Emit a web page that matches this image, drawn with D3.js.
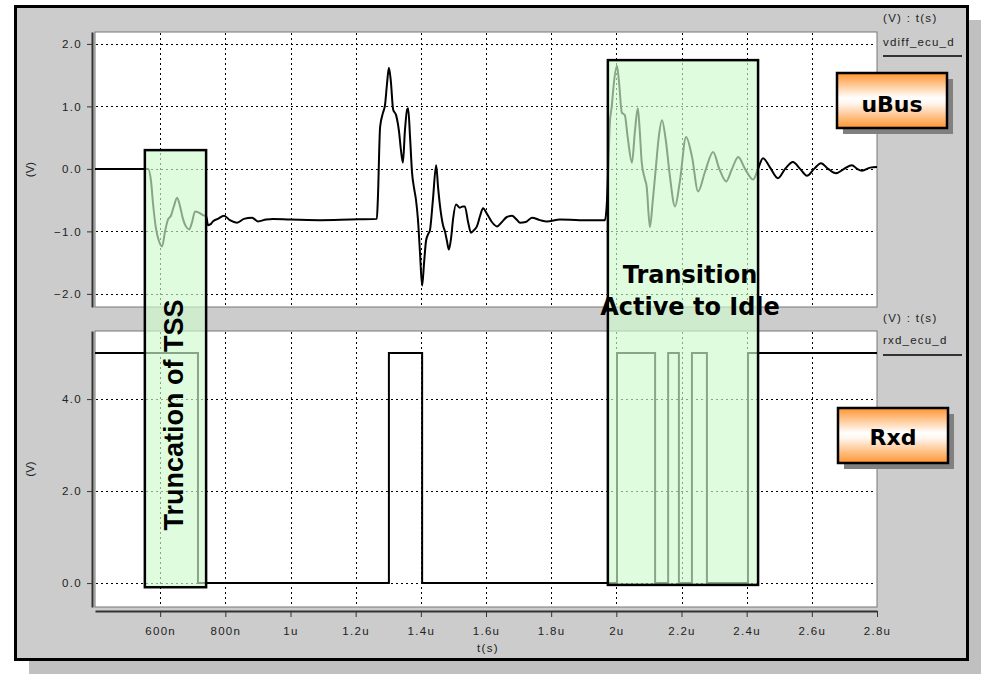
<!DOCTYPE html>
<html>
<head>
<meta charset="utf-8">
<script src="https://cdn.jsdelivr.net/npm/d3@7/dist/d3.min.js"></script>
<style>
  html, body { margin: 0; padding: 0; background: #ffffff; }
  svg { display: block; }
  .tick text { font-family: "Liberation Sans", Arial, sans-serif; font-size: 11.5px; letter-spacing: 1.3px; fill: #222; }
</style>
</head>
<body>
<div id="chart"></div>
<script>
// ---------------- DATA ----------------
// time in ns
const xTickValues = [600, 800, 1000, 1200, 1400, 1600, 1800, 2000, 2200, 2400, 2600, 2800];
const xTickLabels = ["600n", "800n", "1u", "1.2u", "1.4u", "1.6u", "1.8u", "2u", "2.2u", "2.4u", "2.6u", "2.8u"];
const topYTicks = [-2, -1, 0, 1, 2];
const botYTicks = [0, 2, 4];

// vdiff_ecu_d (V)
const vdiffT = [400, 563, 572, 578, 587, 596, 606, 615, 624, 633, 642, 652, 661, 670, 679, 689, 698, 707, 719, 731, 741,
  747, 756, 762, 777, 796, 814, 836, 857, 882, 900, 925, 946, 998, 1090, 1183, 1265,
  1268, 1275, 1284, 1290, 1296, 1302, 1308, 1315, 1324, 1333, 1339, 1345, 1351, 1358, 1361, 1367, 1373, 1379, 1385, 1391, 1397, 1404,
  1410, 1416, 1422, 1428, 1437, 1447, 1453, 1459, 1468, 1474, 1480, 1486, 1493, 1499, 1508, 1520, 1529, 1535, 1545, 1554, 1563, 1572,
  1582, 1591, 1603, 1618, 1634, 1649, 1664, 1680, 1692, 1704, 1722, 1741, 1766, 1787, 1827, 1888, 1965,
  1971, 1977, 1980, 1986, 1992, 2002, 2008, 2017, 2026, 2035, 2048, 2057, 2066, 2072, 2078, 2087, 2093, 2103, 2112, 2121, 2130, 2140,
  2152, 2164, 2180, 2195, 2214, 2232, 2251, 2272, 2297, 2316, 2337, 2355, 2374, 2395, 2420, 2435, 2450, 2472, 2496, 2518, 2542, 2564,
  2585, 2607, 2628, 2650, 2674, 2699, 2723, 2739, 2754, 2779, 2800];
const vdiffV = [0, 0, -0.2, -0.55, -0.95, -1.15, -1.24, -1.0, -0.81, -0.75, -0.6, -0.46, -0.6, -0.8, -0.92, -0.97, -0.85, -0.68, -0.7, -0.74, -0.76,
  -0.9, -0.88, -0.84, -0.8, -0.75, -0.82, -0.86, -0.8, -0.78, -0.84, -0.81, -0.8, -0.81, -0.82, -0.81, -0.8,
  -0.5, 0.67, 0.9, 1.02, 1.35, 1.62, 1.4, 0.95, 0.86, 0.6, 0.3, 0.1, 0.6, 0.95, 0.97, 0.5, -0.06, -0.3, -0.49, -0.8, -1.3, -1.87,
  -1.5, -1.15, -1.05, -0.98, -0.5, 0.06, -0.3, -0.6, -0.9, -1.0, -1.15, -1.29, -1.1, -0.8, -0.57, -0.62, -0.6, -0.6, -0.85, -1.02, -0.98, -0.92,
  -0.75, -0.63, -0.72, -0.85, -0.92, -0.85, -0.77, -0.75, -0.8, -0.86, -0.85, -0.78, -0.82, -0.84, -0.81, -0.82, -0.82,
  -0.54, 0.3, 0.73, 1.0, 1.35, 1.65, 1.4, 0.9, 0.86, 0.5, 0.1, 0.6, 0.97, 0.6, 0.1, -0.15, -0.28, -0.93, -0.5, 0.0, 0.5, 0.78,
  0.45, -0.1, -0.6, -0.2, 0.51, 0.2, -0.36, -0.05, 0.27, 0.0, -0.2, 0.0, 0.19, 0.0, -0.17, 0.0, 0.17, 0.02, -0.15, 0.0, 0.11, 0.0,
  -0.11, 0.0, 0.09, 0.0, -0.07, 0.0, 0.06, 0.0, -0.03, 0.02, 0.03];

// rxd_ecu_d (V): level holds from each edge time until the next one
const rxdT = [400, 716, 1302, 1404, 2002, 2119, 2159, 2192, 2232, 2278, 2404, 2800];
const rxdV = [5, 0, 5, 0, 5, 0, 5, 0, 5, 0, 5, 5];

// highlighted regions (time ns, top-plot volts for top edge, bottom-plot volts for bottom edge)
const highlightT0 = [553, 1974];
const highlightT1 = [741, 2435];
const highlightTopV = [0.30, 1.74];
const highlightBotV = [-0.09, -0.04];

// ---------------- LAYOUT ----------------
const W = 981, H = 674;
const plotL = 95, plotR = 877;
const topT = 32, topB = 307;
const botT = 331, botB = 607;

const svg = d3.select("#chart").append("svg").attr("width", W).attr("height", H);
const defs = svg.append("defs");
const grad = defs.append("linearGradient").attr("id", "orangeGrad").attr("x1", 0).attr("y1", 0).attr("x2", 0).attr("y2", 1);
grad.append("stop").attr("offset", "0%").attr("stop-color", "#ff9430");
grad.append("stop").attr("offset", "45%").attr("stop-color", "#ffffff");
grad.append("stop").attr("offset", "55%").attr("stop-color", "#fff6ee");
grad.append("stop").attr("offset", "100%").attr("stop-color", "#ff9430");

// outer frame with shadow
svg.append("rect").attr("x", 29).attr("y", 20).attr("width", 960).attr("height", 660).attr("fill", "#c0c0c0");
svg.append("rect").attr("x", 15.5).attr("y", 6.5).attr("width", 952).attr("height", 653)
  .attr("fill", "#cccccc").attr("stroke", "#000").attr("stroke-width", 3);

// scales
const x = d3.scaleLinear().domain([400, 2800]).range([plotL, plotR]);
const yTop = d3.scaleLinear().domain([-2.21, 2.19]).range([topB, topT]);
const yBot = d3.scaleLinear().domain([-0.52, 5.48]).range([botB, botT]);

function panel(yS, t, b, yTicks) {
  const g = svg.append("g");
  g.append("rect").attr("x", plotL).attr("y", t).attr("width", plotR - plotL).attr("height", b - t)
    .attr("fill", "#fff").attr("stroke", "#777").attr("stroke-width", 1);
  // grid
  g.selectAll(".vg").data(xTickValues.filter(d => d < 2800)).enter().append("line")
    .attr("x1", d => Math.round(x(d)) + 0.5).attr("x2", d => Math.round(x(d)) + 0.5)
    .attr("y1", t + 1).attr("y2", b - 1)
    .attr("stroke", "#000").attr("stroke-width", 1).attr("stroke-dasharray", "2,3");
  g.selectAll(".hg").data(yTicks).enter().append("line")
    .attr("x1", plotL + 1).attr("x2", plotR - 1)
    .attr("y1", d => Math.round(yS(d)) + 0.5).attr("y2", d => Math.round(yS(d)) + 0.5)
    .attr("stroke", "#000").attr("stroke-width", 1).attr("stroke-dasharray", "2,3");
  // left axis
  const ax = g.append("g").attr("transform", "translate(92,0)")
    .call(d3.axisLeft(yS).tickValues(yTicks).tickFormat(d3.format(".1f")).tickSize(5).tickSizeOuter(0).tickPadding(5));
  ax.select(".domain").attr("stroke", "#333").attr("stroke-width", 2);
  ax.selectAll(".tick line").attr("stroke", "#333");
  // y title centred on the panel
  g.append("text").attr("transform", `translate(34,${(t + b) / 2}) rotate(-90)`)
    .attr("text-anchor", "middle").attr("font-family", "Liberation Sans, Arial, sans-serif")
    .attr("font-size", 11.5).attr("fill", "#222").text("(V)");
  return g;
}

panel(yTop, topT, topB, topYTicks);
panel(yBot, botT, botB, botYTicks);

// bottom axis
const xa = svg.append("g").attr("transform", "translate(0,611)")
  .call(d3.axisBottom(x).tickValues(xTickValues).tickFormat((d, i) => xTickLabels[i]).tickSize(6).tickSizeOuter(0).tickPadding(10));
xa.select(".domain").attr("stroke", "#333").attr("stroke-width", 2);
xa.selectAll(".tick line").attr("stroke", "#333");
svg.append("text").attr("x", 488).attr("y", 652).attr("text-anchor", "middle")
  .attr("font-family", "Liberation Sans, Arial, sans-serif").attr("font-size", 11.5).attr("letter-spacing", 1.3)
  .attr("fill", "#222").text("t(s)");

// signals
const clipTop = defs.append("clipPath").attr("id", "clipTop");
clipTop.append("rect").attr("x", plotL).attr("y", topT).attr("width", plotR - plotL).attr("height", topB - topT);
const clipBot = defs.append("clipPath").attr("id", "clipBot");
clipBot.append("rect").attr("x", plotL).attr("y", botT).attr("width", plotR - plotL).attr("height", botB - botT);

const vdiff = vdiffT.map((t, i) => [t, vdiffV[i]]);
svg.append("path").datum(vdiff).attr("clip-path", "url(#clipTop)")
  .attr("d", d3.line().x(d => x(d[0])).y(d => yTop(d[1])).curve(d3.curveMonotoneX))
  .attr("fill", "none").attr("stroke", "#000").attr("stroke-width", 2).attr("stroke-linejoin", "round");

const rxd = rxdT.map((t, i) => [t, rxdV[i]]);
svg.append("path").datum(rxd).attr("clip-path", "url(#clipBot)")
  .attr("d", d3.line().x(d => x(d[0])).y(d => yBot(d[1])).curve(d3.curveStepAfter))
  .attr("fill", "none").attr("stroke", "#000").attr("stroke-width", 2);

// right-side legends
function legend(yHead, yName, yLine, name) {
  svg.append("text").attr("x", 883).attr("y", yHead).attr("font-family", "Liberation Sans, Arial, sans-serif")
    .attr("font-size", 11.5).attr("letter-spacing", 1.3).attr("fill", "#222").text("(V) : t(s)");
  svg.append("text").attr("x", 883).attr("y", yName).attr("font-family", "Liberation Sans, Arial, sans-serif")
    .attr("font-size", 11.5).attr("letter-spacing", 1.2).attr("fill", "#222").text(name);
  svg.append("line").attr("x1", 883).attr("x2", 962).attr("y1", yLine).attr("y2", yLine)
    .attr("stroke", "#000").attr("stroke-width", 1.5);
}
legend(22, 46, 56, "vdiff_ecu_d");
legend(322, 344, 355, "rxd_ecu_d");

// highlight boxes
highlightT0.forEach((t0, i) => {
  const x0 = x(t0), x1 = x(highlightT1[i]);
  const y0 = yTop(highlightTopV[i]), y1 = yBot(highlightBotV[i]);
  svg.append("rect").attr("x", x0).attr("y", y0).attr("width", x1 - x0).attr("height", y1 - y0)
    .attr("fill", "rgb(206,250,206)").attr("fill-opacity", 0.66)
    .attr("stroke", "#000").attr("stroke-width", 2.5);
});

// annotation texts
svg.append("text").attr("transform", "translate(183,415) rotate(-90)").attr("text-anchor", "middle")
  .attr("font-family", "Liberation Sans, Arial, sans-serif").attr("font-weight", "bold").attr("font-size", 27)
  .attr("fill", "#000").text("Truncation of TSS");
svg.append("text").attr("x", 690).attr("y", 283).attr("text-anchor", "middle")
  .attr("font-family", "DejaVu Sans, Verdana, sans-serif").attr("font-weight", "bold").attr("font-size", 24)
  .attr("fill", "#000").text("Transition");
svg.append("text").attr("x", 690).attr("y", 315).attr("text-anchor", "middle")
  .attr("font-family", "DejaVu Sans, Verdana, sans-serif").attr("font-weight", "bold").attr("font-size", 24)
  .attr("fill", "#000").text("Active to Idle");

// orange label boxes
function tag(bx, by, label, ty) {
  svg.append("rect").attr("x", bx + 6).attr("y", by + 6).attr("width", 110).attr("height", 55).attr("fill", "#808080");
  svg.append("rect").attr("x", bx).attr("y", by).attr("width", 110).attr("height", 55)
    .attr("fill", "url(#orangeGrad)").attr("stroke", "#000").attr("stroke-width", 2.5);
  svg.append("text").attr("x", bx + 55).attr("y", ty).attr("text-anchor", "middle")
    .attr("font-family", "DejaVu Sans, Verdana, sans-serif").attr("font-weight", "bold").attr("font-size", 22)
    .attr("fill", "#000").text(label);
}
tag(837, 73, "uBus", 112);
tag(838, 408, "Rxd", 445);
</script>
</body>
</html>
